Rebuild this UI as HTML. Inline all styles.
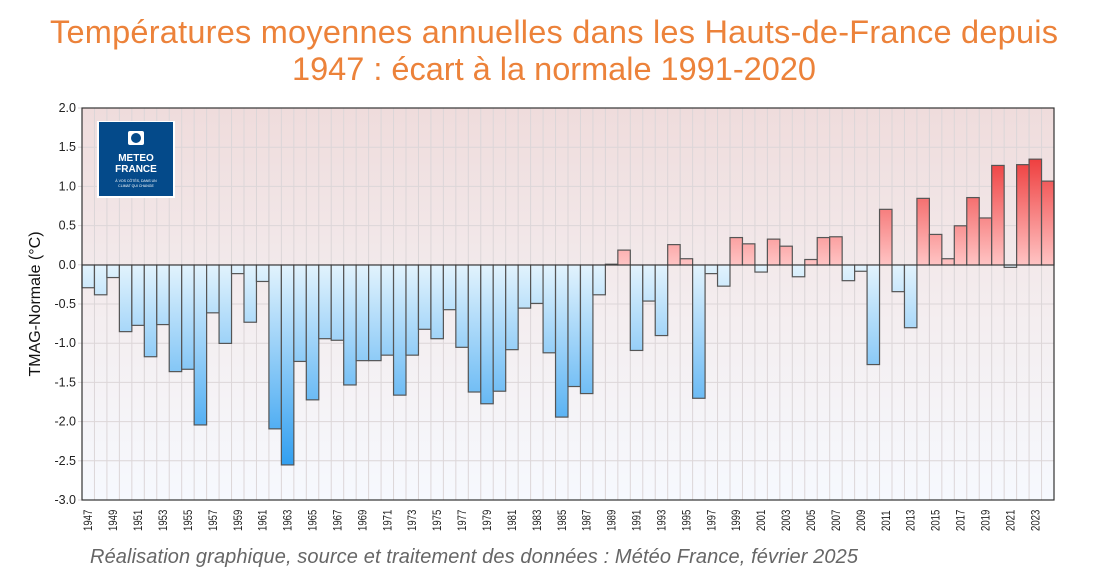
<!DOCTYPE html>
<html><head><meta charset="utf-8"><style>
html,body{margin:0;padding:0;background:#fff;width:1100px;height:585px;overflow:hidden}
</style></head><body>
<svg width="1100" height="585" xmlns="http://www.w3.org/2000/svg" font-family="Liberation Sans, Arial, sans-serif">
<defs>
<linearGradient id="bg" x1="0" y1="108" x2="0" y2="500" gradientUnits="userSpaceOnUse">
<stop offset="0" stop-color="#efdcdc"/><stop offset="0.55" stop-color="#f4eef0"/><stop offset="1" stop-color="#f6f9fe"/></linearGradient>
<linearGradient id="blue" x1="0" y1="265" x2="0" y2="468" gradientUnits="userSpaceOnUse">
<stop offset="0" stop-color="#e2f3fd"/><stop offset="1" stop-color="#2f9ef0"/></linearGradient>
<linearGradient id="red" x1="0" y1="265" x2="0" y2="155" gradientUnits="userSpaceOnUse">
<stop offset="0" stop-color="#ffc4c4"/><stop offset="1" stop-color="#ee3a3a"/></linearGradient>
</defs>
<text x="554" y="43" text-anchor="middle" font-size="32.5" fill="#ec823a" textLength="1008">Températures moyennes annuelles dans les Hauts-de-France depuis</text>
<text x="554" y="80" text-anchor="middle" font-size="32.5" fill="#ec823a">1947 : écart à la normale 1991-2020</text>
<rect x="82" y="108" width="972" height="392" fill="url(#bg)"/>
<g id="grid" stroke="#dcd6d8" stroke-width="1"></g>
<g id="bars" stroke="#555" stroke-width="1.2"></g>
<line x1="82" y1="265" x2="1054" y2="265" stroke="#333" stroke-width="1"/>
<rect x="82" y="108" width="972" height="392" fill="none" stroke="#333" stroke-width="1.2"/>
<g id="yl" font-size="12.5" fill="#222" text-anchor="end"></g>
<g id="xl" font-size="12" fill="#222"></g>
<text transform="translate(40,304) rotate(-90)" text-anchor="middle" font-size="16" fill="#111">TMAG-Normale (°C)</text>
<rect x="97" y="121" width="78" height="77" fill="#fff"/>
<rect x="99" y="122" width="74" height="74" fill="#044a8a"/>
<rect x="128" y="131" width="16" height="14" rx="2" fill="#fff"/>
<circle cx="136" cy="138" r="5" fill="#044a8a"/>
<text x="136" y="161" text-anchor="middle" font-size="10" font-weight="bold" fill="#fff">METEO</text>
<text x="136" y="172" text-anchor="middle" font-size="10" font-weight="bold" fill="#fff">FRANCE</text>
<text x="136" y="182" text-anchor="middle" font-size="3.5" fill="#fff">À VOS CÔTÉS, DANS UN</text>
<text x="136" y="187" text-anchor="middle" font-size="3.5" fill="#fff">CLIMAT QUI CHANGE</text>
<text x="90" y="563" font-size="20" font-style="italic" fill="#666" textLength="768">Réalisation graphique, source et traitement des données : Météo France, février 2025</text>
<script>
var v=[-0.29,-0.38,-0.16,-0.85,-0.77,-1.17,-0.76,-1.36,-1.33,-2.04,-0.61,-1.0,-0.11,-0.73,-0.21,-2.09,-2.55,-1.23,-1.72,-0.94,-0.96,-1.53,-1.22,-1.22,-1.15,-1.66,-1.15,-0.82,-0.94,-0.57,-1.05,-1.62,-1.77,-1.61,-1.08,-0.55,-0.49,-1.12,-1.94,-1.55,-1.64,-0.38,0.01,0.19,-1.09,-0.46,-0.90,0.26,0.08,-1.70,-0.11,-0.27,0.35,0.27,-0.09,0.33,0.24,-0.15,0.07,0.35,0.36,-0.20,-0.08,-1.27,0.71,-0.34,-0.80,0.85,0.39,0.08,0.50,0.86,0.60,1.27,-0.03,1.28,1.35,1.07];
var NS="http://www.w3.org/2000/svg",x0=82,w=972/78,y0=265,s=78.4;
function el(p,t,a,txt){var e=document.createElementNS(NS,t);for(var k in a)e.setAttribute(k,a[k]);if(txt)e.textContent=txt;document.getElementById(p).appendChild(e);}
for(var i=1;i<78;i++)el("grid","line",{x1:x0+i*w,y1:108,x2:x0+i*w,y2:500});
for(var j=1;j<10;j++)el("grid","line",{x1:82,y1:108+j*39.2,x2:1054,y2:108+j*39.2});
for(var i=0;i<78;i++){var h=v[i]*s,y=h>0?y0-h:y0;el("bars","rect",{x:x0+i*w,y:y,width:w,height:Math.abs(h),fill:v[i]>0?"url(#red)":"url(#blue)"});}
for(var j=0;j<=10;j++){var val=2-j*0.5;el("yl","text",{x:76,y:108+j*39.2+4},val.toFixed(1));el("grid","line",{x1:78,y1:108+j*39.2,x2:82,y2:108+j*39.2});}
for(var i=0;i<78;i+=2){var cx=x0+i*w+w/2+4;el("xl","text",{transform:"translate("+cx+",531) rotate(-90) scale(0.8,1)"},String(1947+i));}
</script>
</svg>
</body></html>
